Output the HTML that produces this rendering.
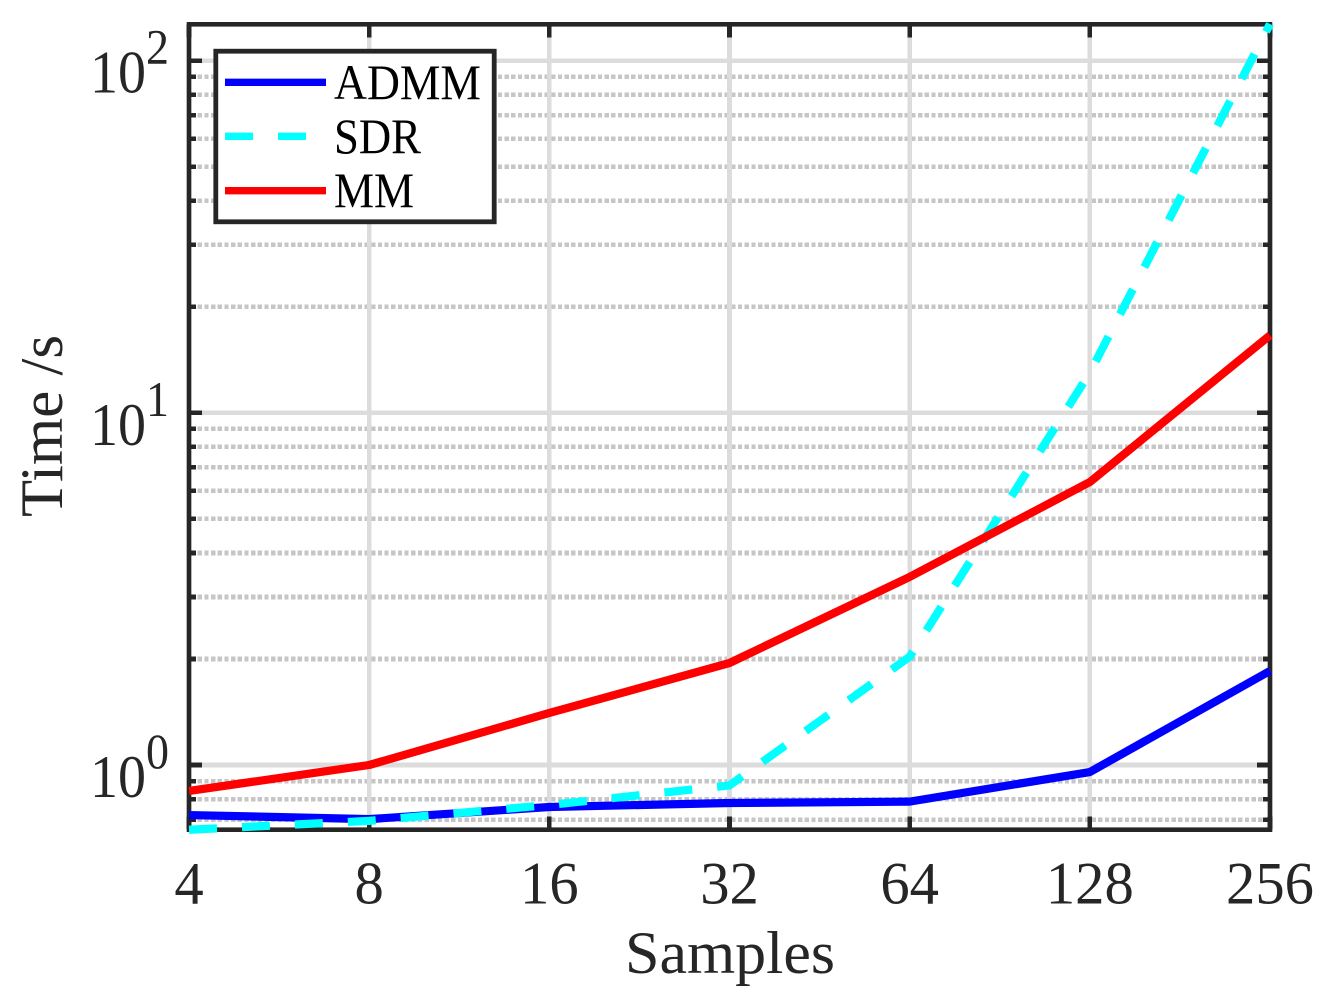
<!DOCTYPE html>
<html>
<head>
<meta charset="utf-8">
<title>Time vs Samples</title>
<style>
html,body{margin:0;padding:0;background:#fff;}
svg{display:block;}
text{font-family:"Liberation Serif",serif;}
</style>
</head>
<body>
<svg id="chart" width="1331" height="1006" viewBox="0 0 1331 1006" xmlns="http://www.w3.org/2000/svg">
  <rect x="0" y="0" width="1331" height="1006" fill="#fff"/>
  <g id="grid" shape-rendering="crispEdges"></g>
  <g id="ticks" shape-rendering="crispEdges"></g>
  <rect x="189" y="24.3" width="1081" height="805.4" fill="none" stroke="#262626" stroke-width="4.6"/>
  <g id="xlabels"></g>
  <g id="ylabels"></g>
  <text x="730" y="973" font-size="60" fill="#262626" text-anchor="middle" textLength="210" lengthAdjust="spacingAndGlyphs">Samples</text>
  <text transform="translate(62,426) rotate(-90)" font-size="60" fill="#262626" text-anchor="middle" textLength="182" lengthAdjust="spacingAndGlyphs">Time /s</text>
  <g id="series"></g>
  <g>
    <rect x="215.8" y="51.2" width="278.4" height="170.6" fill="#fff" stroke="#262626" stroke-width="4.8"/>
    <line x1="225" x2="326" y1="82.3" y2="82.3" stroke="#0000ff" stroke-width="7.4"/>
    <line x1="225" x2="326" y1="136.3" y2="136.3" stroke="#00ffff" stroke-width="7.4" stroke-dasharray="28 25"/>
    <line x1="225" x2="326" y1="190.7" y2="190.7" stroke="#ff0000" stroke-width="7.4"/>
    <text x="334" y="99" font-size="50" fill="#000" textLength="147" lengthAdjust="spacingAndGlyphs">ADMM</text>
    <text x="334" y="153" font-size="50" fill="#000" textLength="87" lengthAdjust="spacingAndGlyphs">SDR</text>
    <text x="334" y="207" font-size="50" fill="#000" textLength="80" lengthAdjust="spacingAndGlyphs">MM</text>
  </g>
</svg>
<script>
const samples = [4, 8, 16, 32, 64, 128, 256];
const xTickLabels = ["4", "8", "16", "32", "64", "128", "256"];
const admmTimes = [0.721, 0.702, 0.76, 0.78, 0.787, 0.955, 1.85];
const sdrTimes = [0.655, 0.694, 0.77, 0.875, 2.03, 13.0, 127];
const mmTimes = [0.844, 1.0, 1.405, 1.948, 3.42, 6.36, 16.6];
const yDecades = [0, 1, 2];
const yMinorMultiples = [2, 3, 4, 5, 6, 7, 8, 9];
const yMinorDecades = [-1, 0, 1, 2];

const NS = "http://www.w3.org/2000/svg";
const plot = { left: 189, right: 1270, top: 24.3, bottom: 829.7 };
const xDomain = [4, 256];
const yOrigin = 765;
const yDecadeHeight = 352.2;
const digitWidth = 29.3;

function xScale(v) {
  const t = (Math.log2(v) - Math.log2(xDomain[0])) / (Math.log2(xDomain[1]) - Math.log2(xDomain[0]));
  return plot.left + t * (plot.right - plot.left);
}
function yScale(v) {
  return yOrigin - yDecadeHeight * Math.log10(v);
}
function makeLine(parent, x1, y1, x2, y2, stroke, width, dash) {
  const el = document.createElementNS(NS, "line");
  el.setAttribute("x1", x1);
  el.setAttribute("y1", y1);
  el.setAttribute("x2", x2);
  el.setAttribute("y2", y2);
  el.setAttribute("stroke", stroke);
  el.setAttribute("stroke-width", width);
  if (dash) el.setAttribute("stroke-dasharray", dash);
  parent.appendChild(el);
  return el;
}
function makeText(parent, x, y, size, anchor, content, fitWidth) {
  const el = document.createElementNS(NS, "text");
  el.setAttribute("x", x);
  el.setAttribute("y", y);
  el.setAttribute("font-size", size);
  el.setAttribute("fill", "#262626");
  el.setAttribute("text-anchor", anchor);
  if (fitWidth) {
    el.setAttribute("textLength", fitWidth);
    el.setAttribute("lengthAdjust", "spacingAndGlyphs");
  }
  el.textContent = content;
  parent.appendChild(el);
  return el;
}

const gridG = document.getElementById("grid");
const ticksG = document.getElementById("ticks");
const xLabelsG = document.getElementById("xlabels");
const yLabelsG = document.getElementById("ylabels");
const seriesG = document.getElementById("series");

/* minor horizontal grid and ticks */
yMinorDecades.forEach(function (d) {
  yMinorMultiples.forEach(function (m) {
    const value = m * Math.pow(10, d);
    const y = yScale(value);
    if (y < plot.top + 2 || y > plot.bottom - 2) return;
    const g = makeLine(gridG, plot.left + 2, y, plot.right - 2, y, "#c6c6c6", 4.6, "4.3 2.37");
    
    
    const tl = makeLine(ticksG, plot.left, y, plot.left + 7, y, "#262626", 4.6);
    
    
    const tr = makeLine(ticksG, plot.right - 7, y, plot.right, y, "#262626", 4.6);
    
    
  });
});

/* major horizontal grid, ticks and labels */
yDecades.forEach(function (d) {
  const y = yScale(Math.pow(10, d));
  const g = makeLine(gridG, plot.left, y, plot.right, y, "#dcdcdc", 4.6);
  
  
  const tl = makeLine(ticksG, plot.left, y, plot.left + 13, y, "#262626", 4.6);
  
  
  const tr = makeLine(ticksG, plot.right - 13, y, plot.right, y, "#262626", 4.6);
  
  
  const base = makeText(yLabelsG, 90, y + 32, 60, "start", "10", 56);
  
  
  const sup = makeText(yLabelsG, 146, y + 3, 50, "start", String(d), 23);
  
  
});

/* vertical grid, ticks and labels */
samples.forEach(function (s, i) {
  const x = xScale(s);
  const g = makeLine(gridG, x, plot.top + 13, x, plot.bottom, "#dcdcdc", 4.6);
  
  
  const tt = makeLine(ticksG, x, plot.top, x, plot.top + 13, "#262626", 4.6);
  
  
  const tb = makeLine(ticksG, x, plot.bottom - 13, x, plot.bottom, "#262626", 4.6);
  
  
  const lab = makeText(xLabelsG, x, 903.5, 60, "middle", xTickLabels[i], digitWidth * xTickLabels[i].length);
  
  
});

/* data series */
function drawSeries(values, color, dash) {
  const el = document.createElementNS(NS, "polyline");
  el.setAttribute("points", values.map(function (v, i) {
    return xScale(samples[i]).toFixed(2) + "," + yScale(v).toFixed(2);
  }).join(" "));
  el.setAttribute("fill", "none");
  el.setAttribute("stroke", color);
  el.setAttribute("stroke-width", "8.2");
  el.setAttribute("stroke-linejoin", "round");
  if (dash) el.setAttribute("stroke-dasharray", dash);
  seriesG.appendChild(el);
  return el;
}
const admmLine = drawSeries(admmTimes, "#0000ff");


const sdrLine = drawSeries(sdrTimes, "#00ffff", "28 25");


const mmLine = drawSeries(mmTimes, "#ff0000");


</script>
</body>
</html>
